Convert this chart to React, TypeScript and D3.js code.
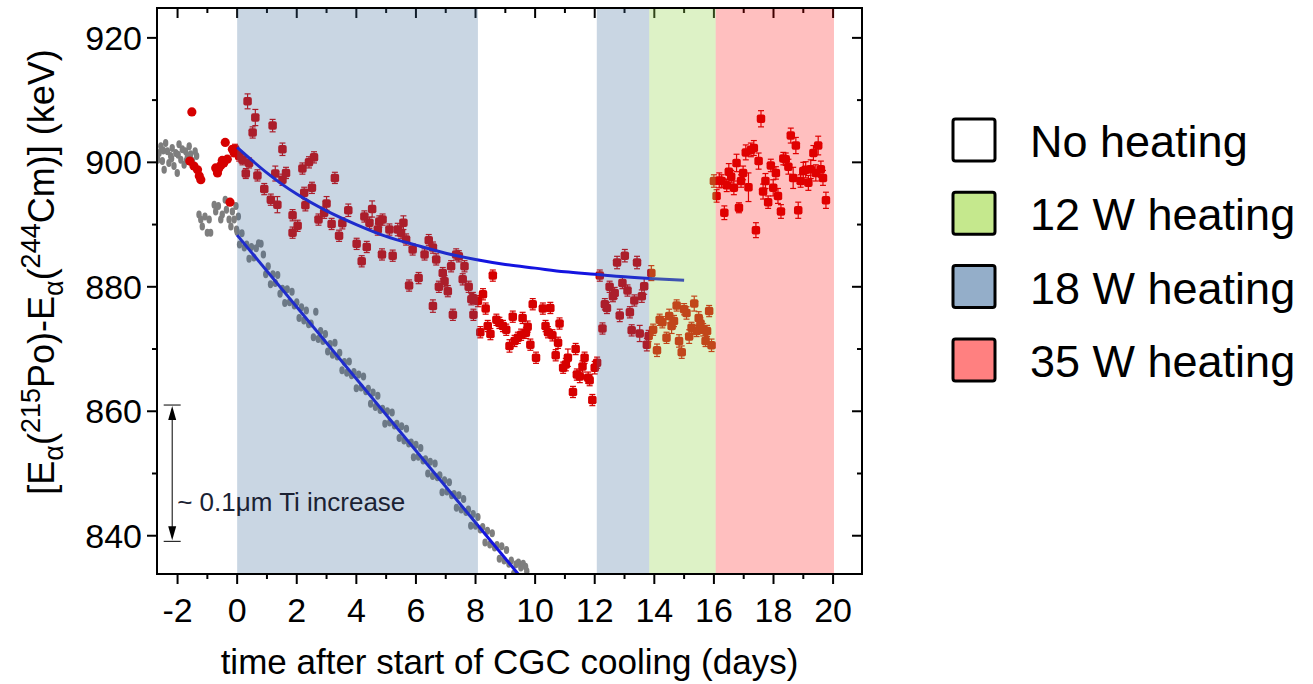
import React from 'react';
import * as d3 from 'd3';

const WIDTH = 1313;
const HEIGHT = 684;
const PLOT = { left: 157, right: 862, top: 8, bottom: 574 };

const dayDomain: [number, number] = [-2.69, 20.97];
const energyDomain: [number, number] = [833.85, 924.8];

const dayMajorTicks = [-2, 0, 2, 4, 6, 8, 10, 12, 14, 16, 18, 20];
const dayMinorTicks = [-1, 1, 3, 5, 7, 9, 11, 13, 15, 17, 19];
const energyMajorTicks = [840, 860, 880, 900, 920];
const energyMinorTicks = [850, 870, 890, 910];

// heating periods: [from day, to day, heater power]
const heatingPeriods: [number, number, string][] = [
  [0, 8.08, '18 W'],
  [12.07, 13.83, '18 W'],
  [13.83, 16.06, '12 W'],
  [16.06, 20.03, '35 W'],
];

const legendLabels = ['No heating', '12 W heating', '18 W heating', '35 W heating'];
const legendKeys = ['none', '12 W', '18 W', '35 W'];

// 215Po - 244Cm energy difference before cooling started (days, keV)
const redBefore: [number, number][] = [
  [-1.52, 908.1], [-1.59, 900.2], [-1.45, 899.4], [-1.33, 898.8], [-1.27, 897.8],
  [-1.22, 897.2], [-0.72, 899.1], [-0.66, 898.3], [-0.62, 899.0], [-0.55, 899.5],
  [-0.50, 900.3], [-0.45, 899.9], [-0.33, 900.5], [-0.40, 903.2], [-0.24, 893.6],
  [-0.16, 902.1], [-0.10, 901.5],
];

// 215Po - 244Cm energy difference with uncertainty (days, keV, ±keV)
const redAfter: [number, number, number][] = [
  [-0.07, 902.1, 0.8], [0.07, 901.0, 0.8], [0.18, 900.4, 0.8], [0.35, 909.8, 1.2],
  [0.40, 899.9, 0.8], [0.29, 898.2, 0.8], [0.61, 907.2, 1.3], [0.52, 904.8, 0.9],
  [0.68, 897.9, 0.9], [0.91, 895.7, 0.9], [1.19, 905.9, 1.0], [1.13, 894.0, 0.9],
  [1.35, 893.2, 1.3], [1.28, 898.2, 1.2], [1.52, 902.1, 1.0], [1.64, 898.3, 0.9],
  [1.52, 897.2, 0.9], [1.86, 891.5, 0.9], [2.03, 889.8, 0.9], [1.86, 888.7, 0.9],
  [2.19, 899.0, 0.9], [2.41, 900.0, 0.9], [2.58, 900.8, 0.9], [2.25, 895.1, 0.9],
  [2.29, 893.1, 0.9], [2.51, 895.9, 0.9], [2.73, 890.8, 0.9], [2.92, 891.9, 0.9],
  [3.00, 893.4, 1.1], [3.17, 890.1, 0.9], [3.28, 897.5, 0.9], [3.42, 888.2, 0.9],
  [3.53, 890.2, 0.9], [3.73, 892.3, 1.0], [4.01, 886.9, 0.9], [4.18, 884.1, 0.9],
  [4.35, 886.4, 0.9], [4.27, 891.3, 0.9], [4.53, 892.5, 1.3], [4.44, 890.3, 0.9],
  [4.77, 890.5, 0.9], [4.88, 890.8, 0.9], [4.72, 889.2, 0.9], [4.86, 885.2, 0.9],
  [5.11, 889.2, 0.9], [5.22, 885.0, 0.9], [5.39, 889.2, 1.0], [5.58, 890.3, 1.1],
  [5.50, 888.7, 0.9], [5.67, 887.6, 0.9], [5.77, 880.2, 0.9], [6.09, 881.4, 0.9],
  [5.89, 886.0, 0.9], [6.29, 885.2, 0.9], [6.43, 887.5, 0.9], [6.57, 886.3, 0.9],
  [6.68, 884.4, 0.9], [6.77, 880.0, 0.9], [6.90, 882.2, 0.9], [6.96, 880.9, 0.9],
  [7.07, 879.3, 0.9], [7.18, 883.3, 0.9], [7.35, 885.2, 0.9], [7.44, 884.9, 0.9],
  [7.57, 881.2, 0.9], [7.63, 883.3, 0.9], [7.77, 880.0, 0.9], [7.91, 878.2, 0.9],
  [6.57, 876.9, 1.0], [7.24, 875.5, 0.9], [7.86, 878.0, 0.9], [7.93, 875.5, 0.9],
  [8.08, 877.7, 0.9], [8.25, 878.8, 0.9], [8.16, 872.7, 0.9], [8.41, 873.7, 0.9],
  [8.50, 872.4, 0.9], [8.58, 881.8, 0.9], [8.34, 876.5, 0.9], [8.70, 874.7, 0.9],
  [8.80, 874.2, 0.9], [8.92, 873.7, 0.9], [9.03, 873.1, 0.9], [9.14, 870.5, 1.0],
  [9.25, 875.2, 0.9], [9.31, 871.3, 0.9], [9.42, 871.8, 0.9], [9.53, 872.3, 0.9],
  [9.58, 875.0, 0.9], [9.69, 872.6, 0.9], [9.75, 873.6, 0.9], [9.84, 870.7, 0.9],
  [9.92, 877.2, 0.9], [10.03, 868.6, 0.9], [10.26, 876.5, 0.9], [10.35, 873.7, 0.9],
  [10.43, 872.7, 0.9], [10.51, 876.6, 0.9], [10.58, 872.2, 0.9], [10.69, 869.0, 0.9],
  [10.77, 871.0, 0.9], [10.82, 874.1, 0.9], [10.94, 867.0, 0.9], [11.03, 867.5, 1.0],
  [11.10, 868.6, 1.4], [11.27, 863.1, 0.9], [11.36, 870.0, 0.9], [11.40, 865.9, 0.9],
  [11.50, 865.6, 1.0], [11.59, 867.2, 0.9], [11.66, 868.6, 0.9], [11.78, 865.4, 0.9],
  [11.83, 865.0, 0.9], [11.92, 861.8, 0.9], [12.00, 867.0, 1.0], [12.08, 867.8, 0.9],
  [12.17, 881.8, 0.9], [12.26, 873.3, 0.9], [12.34, 877.2, 0.9], [12.41, 876.6, 0.9],
  [12.50, 880.0, 0.9], [12.61, 878.5, 0.9], [12.67, 879.0, 0.9], [12.75, 883.9, 1.0],
  [12.84, 875.4, 1.0], [12.93, 880.6, 0.9], [13.01, 885.0, 1.0], [13.10, 879.4, 0.9],
  [13.18, 875.9, 0.9], [13.24, 873.0, 0.9], [13.33, 877.8, 0.9], [13.42, 883.9, 1.0],
  [13.51, 872.5, 1.3], [13.58, 878.5, 1.0], [13.66, 880.1, 1.3], [13.75, 870.7, 1.0],
  [13.81, 872.1, 0.9], [13.90, 882.2, 1.2], [13.96, 873.1, 0.9], [14.09, 869.8, 1.0],
  [14.18, 874.7, 0.9], [14.27, 874.3, 0.9], [14.41, 871.8, 0.9], [14.50, 875.3, 1.1],
  [14.58, 873.7, 1.2], [14.66, 874.5, 0.9], [14.75, 877.0, 0.9], [14.83, 871.3, 1.0],
  [14.92, 869.5, 1.0], [15.00, 876.4, 0.9], [15.08, 875.8, 1.0], [15.17, 872.0, 1.1],
  [15.25, 873.4, 0.9], [15.34, 877.3, 1.2], [15.42, 872.9, 0.9], [15.49, 875.0, 1.0],
  [15.55, 874.1, 0.9], [15.64, 873.1, 1.0], [15.72, 871.3, 0.9], [15.77, 872.9, 0.9],
  [15.84, 876.1, 0.9], [15.92, 870.6, 1.0],
  [16.00, 897.0, 1.0], [16.09, 894.6, 1.0], [16.18, 897.1, 1.2], [16.26, 897.0, 1.0],
  [16.35, 891.9, 1.1], [16.43, 896.3, 1.0], [16.50, 898.5, 1.3], [16.58, 897.7, 1.0],
  [16.67, 895.9, 1.1], [16.76, 899.9, 1.4], [16.84, 892.7, 0.8], [16.91, 897.0, 1.0],
  [16.98, 898.3, 1.1], [17.07, 901.6, 1.2], [17.16, 896.0, 2.3], [17.24, 902.0, 1.1],
  [17.34, 902.3, 1.2], [17.41, 889.1, 1.2], [17.50, 900.2, 1.3], [17.58, 907.0, 1.3],
  [17.65, 895.3, 1.2], [17.73, 897.0, 1.2], [17.82, 893.6, 1.0], [17.91, 899.5, 1.0],
  [17.99, 895.9, 1.3], [18.08, 898.3, 1.0], [18.15, 894.6, 1.2], [18.25, 892.1, 1.1],
  [18.33, 900.6, 1.0], [18.41, 900.5, 1.0], [18.50, 899.3, 1.2], [18.58, 904.3, 1.2],
  [18.66, 897.5, 1.7], [18.75, 902.7, 1.3], [18.83, 892.3, 1.3], [18.91, 897.0, 1.0],
  [19.00, 898.6, 1.4], [19.08, 898.8, 1.3], [19.17, 896.7, 1.2], [19.25, 898.9, 1.5],
  [19.34, 901.5, 1.2], [19.42, 898.3, 1.3], [19.50, 902.7, 1.5], [19.59, 898.9, 1.3],
  [19.66, 897.5, 1.2], [19.76, 893.9, 1.3],
];

// reference measurement (days, keV)
const grayPoints: [number, number][] = [
  [-2.62, 901.5], [-2.56, 902.6], [-2.51, 900.2], [-2.45, 898.8], [-2.40, 903.1],
  [-2.34, 901.8], [-2.29, 899.9], [-2.23, 901.0], [-2.18, 902.3], [-2.12, 899.4],
  [-2.06, 901.5], [-2.01, 898.3], [-1.95, 902.9], [-1.89, 900.4], [-1.84, 902.1],
  [-1.78, 899.6], [-1.73, 901.8], [-1.67, 901.0], [-1.61, 902.6], [-1.56, 901.3],
  [-1.50, 900.2], [-1.41, 901.8], [-1.36, 901.0], [-2.66, 900.4], [-2.48, 901.9],
  [-2.20, 900.6], [-1.98, 901.2], [-1.70, 900.3],
  [-1.28, 891.6], [-1.22, 890.8], [-1.17, 889.7], [-1.08, 891.3], [-1.00, 888.7],
  [-0.89, 888.7], [-0.94, 890.8], [-0.77, 893.2], [-0.72, 892.1], [-0.63, 893.0],
  [-0.55, 890.8], [-0.50, 891.6], [-0.40, 894.0], [-0.36, 892.4], [-0.27, 890.8],
  [-0.21, 889.7], [-0.16, 892.1], [-0.10, 890.8], [-0.04, 893.0], [-0.02, 889.2],
  [0.04, 891.3],
  [0.00, 888.8], [0.08, 886.8], [0.16, 888.6], [0.24, 886.3], [0.32, 886.8],
  [0.40, 884.5], [0.48, 886.4], [0.56, 884.7], [0.64, 886.2], [0.72, 887.0],
  [0.80, 886.9], [0.88, 885.2], [0.96, 882.0], [1.04, 883.3], [1.12, 880.4],
  [1.20, 882.0], [1.28, 880.6], [1.36, 881.9], [1.44, 878.9], [1.52, 879.7],
  [1.60, 877.4], [1.68, 879.6], [1.76, 877.5], [1.84, 879.2], [1.92, 877.0],
  [2.00, 877.5], [2.08, 875.0], [2.16, 876.7], [2.24, 874.6], [2.32, 876.2],
  [2.40, 874.0], [2.48, 874.1], [2.56, 871.9], [2.64, 876.0], [2.72, 871.6],
  [2.80, 872.9], [2.88, 871.3], [2.96, 872.4], [3.04, 869.6], [3.12, 870.8],
  [3.20, 869.1], [3.28, 871.0], [3.36, 868.8], [3.44, 869.4], [3.52, 866.6],
  [3.60, 867.9], [3.68, 866.2], [3.76, 868.0], [3.84, 865.8], [3.92, 866.3],
  [4.00, 863.7], [4.08, 865.9], [4.16, 863.8], [4.24, 865.6], [4.32, 863.2],
  [4.40, 863.6], [4.48, 861.2], [4.56, 863.0], [4.64, 860.7], [4.72, 862.5],
  [4.80, 860.2], [4.88, 860.4], [4.96, 858.0], [5.04, 860.0], [5.12, 858.2],
  [5.20, 859.8], [5.28, 857.7], [5.36, 858.0], [5.44, 855.7], [5.52, 857.6],
  [5.60, 855.3], [5.68, 857.2], [5.76, 854.8], [5.84, 855.0], [5.92, 852.6],
  [6.00, 854.6], [6.08, 852.7], [6.16, 854.1], [6.24, 852.1], [6.32, 852.3],
  [6.40, 850.0], [6.48, 851.9], [6.56, 849.6], [6.64, 851.6], [6.72, 849.4],
  [6.80, 849.7], [6.88, 847.0], [6.96, 848.9], [7.04, 847.1], [7.12, 848.6],
  [7.20, 846.5], [7.28, 846.7], [7.36, 844.5], [7.44, 846.5], [7.52, 844.2],
  [7.60, 845.9], [7.68, 843.8], [7.76, 844.2], [7.84, 841.6], [7.92, 843.5],
  [8.00, 841.6], [8.08, 843.0], [8.16, 841.0], [8.24, 841.4], [8.32, 838.9],
  [8.40, 840.8], [8.48, 838.6], [8.56, 840.4], [8.64, 838.1], [8.72, 838.5],
  [8.80, 836.3], [8.88, 838.3], [8.96, 836.0], [9.04, 837.7], [9.12, 835.5],
  [9.20, 836.0], [9.28, 833.9], [9.36, 835.4], [9.44, 835.7], [9.52, 834.9],
  [9.60, 835.5], [9.68, 835.0], [9.72, 834.3],
];

// fitted trends (days, keV)
const fitDecay: [number, number][] = [
  [0, 902.4], [0.5, 900.3], [1, 898.3], [1.5, 896.5], [2, 894.9], [3, 892.2],
  [4, 890.0], [5, 888.1], [6, 886.7], [7, 885.4], [8, 884.4], [9, 883.6],
  [10, 883.0], [11, 882.4], [12, 882.0], [13, 881.6], [14, 881.3], [15, 881.07],
];
const fitLinear: [number, number][] = [[0, 888.3], [9.7, 832.3]];

// thickness marker: span in keV at a fixed day
const thicknessMarker = { day: -2.18, from: 839.1, to: 861.0, label: '~ 0.1\u03bcm Ti increase' };

const overlayStyle: Record<string, { fill: string; opacity: number }> = {
  '12 W': { fill: 'rgb(151,215,80)', opacity: 0.325 },
  '18 W': { fill: 'rgb(61,107,154)', opacity: 0.28 },
  '35 W': { fill: 'rgb(255,0,0)', opacity: 0.25 },
};
const swatchFill: Record<string, string> = {
  none: '#ffffff',
  '12 W': '#c5e88d',
  '18 W': '#94aec9',
  '35 W': '#ff8080',
};

const FONT = '"Liberation Sans", Arial, Helvetica, sans-serif';
const RED = '#d60000';
const GRAY = '#7e7e7e';
const FIT = '#1414e0';

export default function App() {
  const x = d3.scaleLinear().domain(dayDomain).range([PLOT.left, PLOT.right]);
  const y = d3.scaleLinear().domain(energyDomain).range([PLOT.bottom, PLOT.top]);
  const line = d3
    .line<[number, number]>()
    .x((d) => x(d[0]))
    .y((d) => y(d[1]))
    .curve(d3.curveMonotoneX);
  const straight = d3
    .line<[number, number]>()
    .x((d) => x(d[0]))
    .y((d) => y(d[1]));

  const major = 10;
  const minor = 5;
  const box = 8.5;

  return (
    <svg
      width={WIDTH}
      height={HEIGHT}
      style={{ position: 'absolute', left: 0, top: 0, background: '#fff' }}
      fontFamily={FONT}
    >
      <defs>
        <clipPath id="plot-area">
          <rect x={PLOT.left} y={PLOT.top} width={PLOT.right - PLOT.left} height={PLOT.bottom - PLOT.top} />
        </clipPath>
      </defs>

      <g clipPath="url(#plot-area)">
        {grayPoints.map((d, i) => (
          <ellipse key={`g${i}`} cx={x(d[0])} cy={y(d[1])} rx={2.7} ry={4} fill={GRAY} />
        ))}
        {redBefore.map((d, i) => (
          <circle key={`rb${i}`} cx={x(d[0])} cy={y(d[1])} r={4.6} fill={RED} />
        ))}
        {redAfter.map((d, i) => {
          const cx = x(d[0]);
          const y0 = y(d[1] - d[2]);
          const y1 = y(d[1] + d[2]);
          return (
            <g key={`ra${i}`} stroke={RED} strokeWidth={1.2}>
              <line x1={cx} x2={cx} y1={y0} y2={y1} />
              <line x1={cx - 3} x2={cx + 3} y1={y0} y2={y0} />
              <line x1={cx - 3} x2={cx + 3} y1={y1} y2={y1} />
              <rect x={cx - box / 2} y={y(d[1]) - box / 2} width={box} height={box} rx={2} fill={RED} stroke="none" />
            </g>
          );
        })}
        <path d={line(fitDecay) ?? ''} fill="none" stroke={FIT} strokeWidth={3} />
        <path d={straight(fitLinear) ?? ''} fill="none" stroke={FIT} strokeWidth={3} />

        {/* inner ticks on the top and right edges */}
        {dayMajorTicks.map((t) => (
          <line key={`tt${t}`} x1={x(t)} x2={x(t)} y1={PLOT.top} y2={PLOT.top + major} stroke="#000" strokeWidth={2} />
        ))}
        {dayMinorTicks.map((t) => (
          <line key={`tm${t}`} x1={x(t)} x2={x(t)} y1={PLOT.top} y2={PLOT.top + minor} stroke="#000" strokeWidth={2} />
        ))}
        {energyMajorTicks.map((t) => (
          <line key={`rt${t}`} x1={PLOT.right - major} x2={PLOT.right} y1={y(t)} y2={y(t)} stroke="#000" strokeWidth={2} />
        ))}
        {energyMinorTicks.map((t) => (
          <line key={`rm${t}`} x1={PLOT.right - minor} x2={PLOT.right} y1={y(t)} y2={y(t)} stroke="#000" strokeWidth={2} />
        ))}

        {/* heating periods, laid over the data as tinted glass */}
        {heatingPeriods.map(([from, to, power], i) => (
          <rect
            key={`hp${i}`}
            x={x(from)}
            y={PLOT.top}
            width={x(to) - x(from)}
            height={PLOT.bottom - PLOT.top}
            fill={overlayStyle[power].fill}
            fillOpacity={overlayStyle[power].opacity}
          />
        ))}
      </g>

      {/* frame */}
      <rect
        x={PLOT.left}
        y={PLOT.top}
        width={PLOT.right - PLOT.left}
        height={PLOT.bottom - PLOT.top}
        fill="none"
        stroke="#000"
        strokeWidth={2}
      />

      {/* bottom axis */}
      {dayMajorTicks.map((t) => (
        <g key={`bx${t}`}>
          <line x1={x(t)} x2={x(t)} y1={PLOT.bottom} y2={PLOT.bottom + major} stroke="#000" strokeWidth={2} />
          <text x={x(t)} y={PLOT.bottom + 48} fontSize={34} textAnchor="middle" fill="#000">
            {String(t)}
          </text>
        </g>
      ))}
      {dayMinorTicks.map((t) => (
        <line key={`bm${t}`} x1={x(t)} x2={x(t)} y1={PLOT.bottom} y2={PLOT.bottom + minor} stroke="#000" strokeWidth={2} />
      ))}

      {/* left axis */}
      {energyMajorTicks.map((t) => (
        <g key={`ly${t}`}>
          <line x1={PLOT.left - major} x2={PLOT.left} y1={y(t)} y2={y(t)} stroke="#000" strokeWidth={2} />
          <text x={PLOT.left - 15} y={y(t) + 12} fontSize={34} textAnchor="end" fill="#000">
            {String(t)}
          </text>
        </g>
      ))}
      {energyMinorTicks.map((t) => (
        <line key={`lm${t}`} x1={PLOT.left - minor} x2={PLOT.left} y1={y(t)} y2={y(t)} stroke="#000" strokeWidth={2} />
      ))}

      <text x={(PLOT.left + PLOT.right) / 2} y={674} fontSize={35} textAnchor="middle" fill="#000">
        time after start of CGC cooling (days)
      </text>

      <text transform="translate(54,272) rotate(-90)" fontSize={36} textAnchor="middle" fill="#000">
        <tspan>[E</tspan>
        <tspan dy={9} fontSize={27}>{'\u03b1'}</tspan>
        <tspan dy={-9}>(</tspan>
        <tspan dy={-14} fontSize={27}>215</tspan>
        <tspan dy={14}>Po)-E</tspan>
        <tspan dy={9} fontSize={27}>{'\u03b1'}</tspan>
        <tspan dy={-9}>(</tspan>
        <tspan dy={-14} fontSize={27}>244</tspan>
        <tspan dy={14}>Cm)] (keV)</tspan>
      </text>

      {/* Ti thickness scale */}
      {(() => {
        const ax = x(thicknessMarker.day);
        const yTop = y(thicknessMarker.to);
        const yBot = y(thicknessMarker.from);
        return (
          <g stroke="#000" fill="#000">
            <line x1={ax - 8.5} x2={ax + 8.5} y1={yTop} y2={yTop} strokeWidth={1} />
            <line x1={ax - 8.5} x2={ax + 8.5} y1={yBot} y2={yBot} strokeWidth={1} />
            <line x1={ax} x2={ax} y1={yTop + 4} y2={yBot - 4} strokeWidth={1} />
            <path d={`M${ax},${yTop + 1} L${ax - 4},${yTop + 15} L${ax + 4},${yTop + 15} Z`} stroke="none" />
            <path d={`M${ax},${yBot - 1} L${ax - 4},${yBot - 15} L${ax + 4},${yBot - 15} Z`} stroke="none" />
            <text x={ax + 5} y={y(thicknessMarker.from) - 30} fontSize={26} fill="#1b2233" stroke="none">
              {thicknessMarker.label}
            </text>
          </g>
        );
      })()}

      {/* legend */}
      {legendLabels.map((label, i) => {
        const top = 119 + i * 73.3;
        return (
          <g key={label}>
            <rect
              x={953}
              y={top}
              width={42}
              height={42}
              rx={2.5}
              fill={swatchFill[legendKeys[i]]}
              stroke="#000"
              strokeWidth={3}
            />
            <text x={1030} y={top + 38} fontSize={45} fill="#000">
              {label}
            </text>
          </g>
        );
      })}
    </svg>
  );
}
